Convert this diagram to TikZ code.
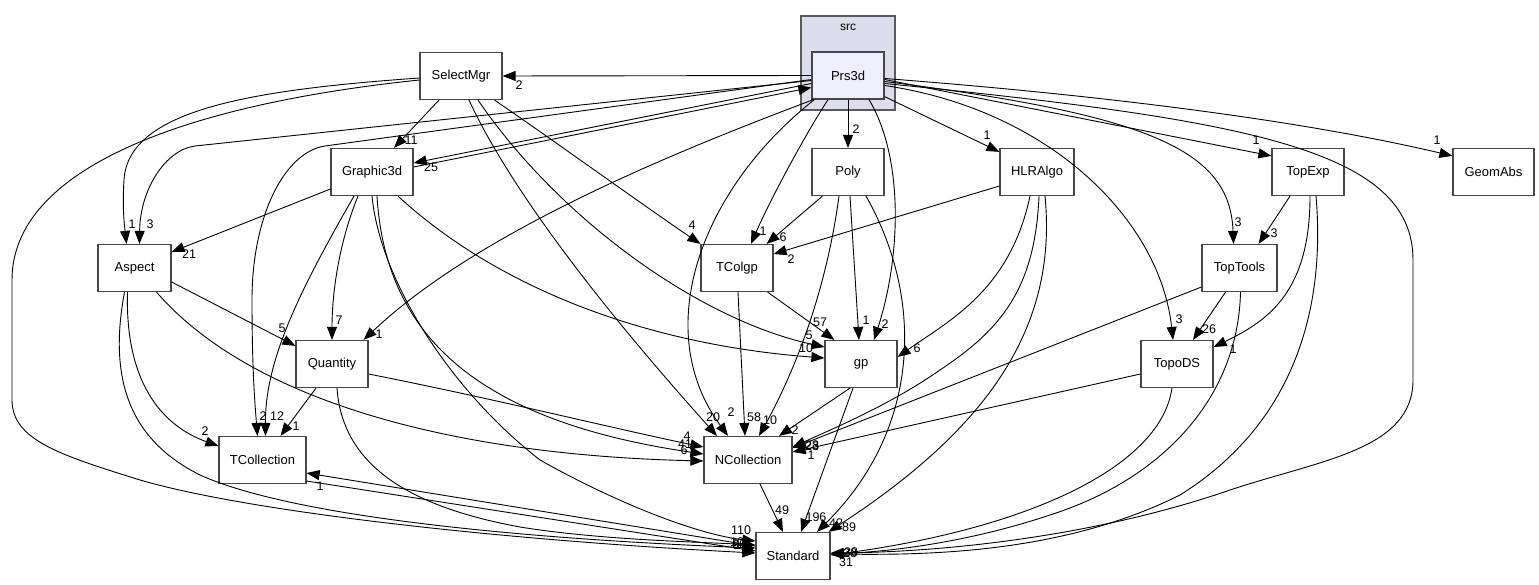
\documentclass[tikz,border=0pt]{standalone}
\usepackage{fontspec}
\setmainfont{Liberation Sans}
\usetikzlibrary{arrows.meta}
\definecolor{clfill}{HTML}{DDDDEE}
\definecolor{prsfill}{HTML}{EEEEFF}
\newcommand\nfont{\fontsize{13}{15}\selectfont}
\newcommand\lfont{\fontsize{12.5}{14}\selectfont}
\tikzset{
  box/.style={draw=black!72, line width=1.2pt, fill=white, minimum height=47pt, inner sep=0pt, font=\nfont},
  cl/.style={draw=black!65, line width=1.2pt, fill=clfill, inner sep=0pt},
  e/.style={draw=black, line width=0.9pt, -{Triangle[length=13pt,width=10pt]}},
  lbl/.style={inner sep=0pt, font=\lfont}
}
\begin{document}
\begin{tikzpicture}[x=1pt,y=-1pt]
\fill[white] (0,0) rectangle (1539,585);
\useasboundingbox (0,0) rectangle (1539,585);
% cluster
\node[cl, minimum width=94pt, minimum height=94pt] (srcbox) at (848,63) {};
\node[lbl, font=\fontsize{12}{14}\selectfont] (srclbl) at (848,27) {src};
% nodes
\node[box, fill=prsfill, minimum width=72pt] (prs) at (848,75.5) {Prs3d};
\node[box, minimum width=82pt] (sel) at (461,76) {SelectMgr};
\node[box, minimum width=82pt] (g3d) at (372,172) {Graphic3d};
\node[box, minimum width=72pt] (poly) at (848,172) {Poly};
\node[box, minimum width=74pt] (hlr) at (1037,172) {HLRAlgo};
\node[box, minimum width=72pt] (topexp) at (1308,172) {TopExp};
\node[box, minimum width=81pt] (geom) at (1493.5,172) {GeomAbs};
\node[box, minimum width=73pt] (aspect) at (134.5,268) {Aspect};
\node[box, minimum width=72pt] (tcolgp) at (737,268) {TColgp};
\node[box, minimum width=75pt] (toptools) at (1239.5,268) {TopTools};
\node[box, minimum width=72pt] (quantity) at (332,364) {Quantity};
\node[box, minimum width=72pt] (gp) at (861,364) {gp};
\node[box, minimum width=72pt] (topods) at (1177,364) {TopoDS};
\node[box, minimum width=87pt] (tcoll) at (262.5,460) {TCollection};
\node[box, minimum width=88pt] (ncoll) at (748,460) {NCollection};
\node[box, minimum width=74pt] (std) at (793,556) {Standard};
% edges from Prs3d
\draw[e] (prs.west) -- (sel.east);
\draw[e] ([shift={(0,8)}]prs.west) -- ([shift={(0,-9)}]g3d.east);
\draw[e] ([shift={(0,-5)}]g3d.east) -- ([shift={(0,12)}]prs.west);
\draw[e] ([shift={(0,5)}]prs.west) -- (195,146) .. controls (165,150) and (140,190) .. ([shift={(5,0)}]aspect.north);
\draw[e] ([shift={(0,4)}]prs.west) -- (325,146) .. controls (285,152) and (252,215) .. (252,300) .. controls (252,370) and (255,405) .. ([shift={(-5,0)}]tcoll.north);
\draw[e] ([shift={(2,0)}]prs.south west) .. controls (680,150) and (480,230) .. ([shift={(-5,0)}]quantity.north east);
\draw[e] (prs.south) -- (poly.north);
\draw[e] ([shift={(0,-3)}]prs.south east) -- ([shift={(0,4)}]hlr.north west);
\draw[e] ([shift={(0,4)}]prs.east) -- ([shift={(0,8)}]topexp.north west);
\draw[e] ([shift={(0,3)}]prs.east) .. controls (1100,95) and (1300,120) .. ([shift={(0,8)}]geom.north west);
\draw[e] ([shift={(0,6)}]prs.east) .. controls (1150,115) and (1230,150) .. ([shift={(-6,0)}]toptools.north);
\draw[e] ([shift={(0,10)}]prs.east) .. controls (1050,110) and (1160,220) .. ([shift={(-4,0)}]topods.north);
\draw[e] ([shift={(0,8)}]prs.east) .. controls (1250,120) and (1413,150) .. (1413,260) -- (1413,380) .. controls (1413,450) and (1320,460) .. (1230,490) .. controls (1100,535) and (950,552) .. ([shift={(0,-3)}]std.east);
\draw[e] ([shift={(-20,0)}]prs.south) .. controls (805,135) and (770,200) .. ([shift={(14,0)}]tcolgp.north);
\draw[e] ([shift={(21,0)}]prs.south) .. controls (905,160) and (900,260) .. ([shift={(13,0)}]gp.north);
\draw[e] ([shift={(3,0)}]prs.south west) .. controls (700,190) and (650,330) .. ([shift={(-20,0)}]ncoll.north);
% SelectMgr
\draw[e] ([shift={(8,0)}]sel.south) .. controls (520,210) and (640,350) .. ([shift={(-31,0)}]ncoll.north);
\draw[e] ([shift={(17,0)}]sel.south) .. controls (560,220) and (700,320) .. ([shift={(0,-17)}]gp.west);
\draw[e] ([shift={(-8,0)}]sel.south east) .. controls (560,145) and (650,210) .. (tcolgp.north west);
\draw[e] ([shift={(-22,0)}]sel.south) -- ([shift={(22,0)}]g3d.north);
\draw[e] ([shift={(0,2)}]sel.west) .. controls (250,90) and (128,110) .. (124,180) .. controls (122,210) and (125,230) .. ([shift={(-8,0)}]aspect.north);
\draw[e] ([shift={(0,4)}]sel.west) .. controls (180,105) and (12,170) .. (12,280) -- (12,400) .. controls (12,440) and (60,455) .. (140,480) .. controls (250,512) and (500,540) .. ([shift={(0,-3)}]std.west);
% Graphic3d
\draw[e] ([shift={(0,17)}]g3d.west) -- ([shift={(0,-16)}]aspect.east);
\draw[e] ([shift={(-14,0)}]g3d.south) .. controls (340,240) and (332,290) .. (quantity.north);
\draw[e] ([shift={(-18,0)}]g3d.south) .. controls (300,290) and (265,360) .. ([shift={(3,0)}]tcoll.north);
\draw[e] ([shift={(26,0)}]g3d.south) .. controls (500,290) and (650,345) .. ([shift={(0,-6)}]gp.west);
\draw[e] ([shift={(5,0)}]g3d.south) .. controls (385,330) and (470,420) .. ([shift={(0,-6)}]ncoll.west);
\draw[e] (g3d.south) .. controls (380,280) and (450,390) .. (540,460) .. controls (620,505) and (700,535) .. ([shift={(0,-15)}]std.west);
% Aspect
\draw[e] ([shift={(0,14)}]aspect.east) -- ([shift={(0,6)}]quantity.north west);
\draw[e] ([shift={(-7,0)}]aspect.south) .. controls (125,380) and (160,425) .. ([shift={(0,-14)}]tcoll.west);
\draw[e] ([shift={(-10,0)}]aspect.south) .. controls (108,380) and (130,440) .. (200,475) .. controls (300,520) and (550,540) .. ([shift={(0,-8)}]std.west);
\draw[e] ([shift={(22,0)}]aspect.south) .. controls (250,400) and (450,455) .. ([shift={(0,1)}]ncoll.west);
% Quantity
\draw[e] ([shift={(-16,0)}]quantity.south) -- ([shift={(18,0)}]tcoll.north);
\draw[e] ([shift={(0,10)}]quantity.east) .. controls (500,400) and (620,430) .. ([shift={(0,-13)}]ncoll.west);
\draw[e] ([shift={(5,0)}]quantity.south) .. controls (342,460) and (400,505) .. (520,527) .. controls (600,540) and (700,542) .. ([shift={(0,-11)}]std.west);
% TCollection / Standard
\draw[e] ([shift={(0,21)}]tcoll.east) -- ([shift={(0,-5)}]std.west);
\draw[e] ([shift={(0,-10)}]std.west) -- ([shift={(0,13)}]tcoll.east);
% TColgp
\draw[e] ([shift={(-6,0)}]tcolgp.south east) -- ([shift={(10,0)}]gp.north west);
\draw[e] ([shift={(1,0)}]tcolgp.south) -- ([shift={(-3,0)}]ncoll.north);
% Poly
\draw[e] ([shift={(11,0)}]poly.south west) -- ([shift={(-7,0)}]tcolgp.north east);
\draw[e] ([shift={(2,0)}]poly.south) -- ([shift={(-2,0)}]gp.north);
\draw[e] ([shift={(-9,0)}]poly.south) .. controls (825,300) and (790,380) .. ([shift={(11,0)}]ncoll.north);
\draw[e] ([shift={(18,0)}]poly.south) .. controls (925,300) and (920,430) .. ([shift={(24,0)}]std.north);
% HLRAlgo
\draw[e] ([shift={(0,14)}]hlr.west) -- ([shift={(0,-14)}]tcolgp.east);
\draw[e] ([shift={(-7,0)}]hlr.south) .. controls (1010,290) and (950,320) .. ([shift={(0,-7)}]gp.east);
\draw[e] ([shift={(2,0)}]hlr.south) .. controls (1035,290) and (1000,330) .. (940,370) .. controls (890,405) and (830,430) .. ([shift={(0,-13)}]ncoll.east);
\draw[e] ([shift={(8,0)}]hlr.south) .. controls (1058,330) and (985,430) .. ([shift={(-2,0)}]std.north east);
% TopExp
\draw[e] ([shift={(-18,0)}]topexp.south) -- ([shift={(-19,0)}]toptools.north east);
\draw[e] ([shift={(2,0)}]topexp.south) .. controls (1310,290) and (1270,320) .. ([shift={(0,-17)}]topods.east);
\draw[e] ([shift={(8,0)}]topexp.south) .. controls (1325,300) and (1300,420) .. (1180,495) .. controls (1060,555) and (920,555) .. ([shift={(0,-2)}]std.east);
% TopTools
\draw[e] ([shift={(-14,0)}]toptools.south) -- ([shift={(16,0)}]topods.north);
\draw[e] ([shift={(0,19)}]toptools.west) -- ([shift={(0,-12)}]ncoll.east);
\draw[e] ([shift={(1,0)}]toptools.south) .. controls (1238,400) and (1160,480) .. (1050,515) .. controls (960,545) and (880,552) .. ([shift={(0,-2)}]std.east);
% TopoDS
\draw[e] ([shift={(0,10)}]topods.west) -- ([shift={(0,-8)}]ncoll.east);
\draw[e] ([shift={(-5,0)}]topods.south) .. controls (1160,470) and (1020,530) .. ([shift={(0,-1)}]std.east);
% gp / NCollection
\draw[e] ([shift={(-11,0)}]gp.south) -- ([shift={(31,0)}]ncoll.north);
\draw[e] ([shift={(-8,0)}]gp.south) -- ([shift={(8,0)}]std.north);
\draw[e] ([shift={(12,0)}]ncoll.south) -- ([shift={(-10,0)}]std.north);
% labels
\node[lbl] (la1) at (519,85) {2};
\node[lbl] (la2) at (431,167) {25};
\node[lbl] (la3) at (150,224) {3};
\node[lbl] (la4) at (263,416) {2};
\node[lbl] (la5) at (379,334) {1};
\node[lbl] (la6) at (856,129) {2};
\node[lbl] (la7) at (987,135) {1};
\node[lbl] (la8) at (1256,140) {1};
\node[lbl] (la9) at (1437,140) {1};
\node[lbl] (la10) at (1238,222) {3};
\node[lbl] (la11) at (1179,319) {3};
\node[lbl] (la12) at (763,231) {1};
\node[lbl] (la13) at (885,324) {2};
\node[lbl] (la14) at (731,412) {2};
\node[lbl] (la15) at (713,417) {20};
\node[lbl] (la16) at (809,335) {5};
\node[lbl] (la17) at (692,225) {4};
\node[lbl] (la18) at (411,140) {11};
\node[lbl] (la19) at (132,224) {1};
\node[lbl] (la20) at (189,254) {21};
\node[lbl] (la21) at (339,320) {7};
\node[lbl] (la22) at (277,416) {12};
\node[lbl] (la23) at (806,348) {10};
\node[lbl] (la24) at (282,328) {5};
\node[lbl] (la25) at (205,431) {2};
\node[lbl] (la26) at (296,426) {1};
\node[lbl] (la27) at (687,436) {4};
\node[lbl] (la28) at (685,444) {41};
\node[lbl] (la29) at (684,450) {6};
\node[lbl] (la30) at (320,486) {1};
\node[lbl] (la31) at (820,322) {57};
\node[lbl] (la32) at (754,417) {58};
\node[lbl] (la33) at (783,237) {6};
\node[lbl] (la34) at (866,320) {1};
\node[lbl] (la35) at (770,420) {10};
\node[lbl] (la36) at (836,523) {42};
\node[lbl] (la37) at (791,259) {2};
\node[lbl] (la38) at (917,348) {6};
\node[lbl] (la39) at (849,527) {89};
\node[lbl] (la40) at (1274,233) {3};
\node[lbl] (la41) at (1233,349) {1};
\node[lbl] (la42) at (1209,329) {26};
\node[lbl] (la43) at (795,430) {2};
\node[lbl] (la44) at (816,517) {196};
\node[lbl] (la45) at (782,510) {49};
\node[lbl] (la46) at (741,530) {110};
\node[lbl] (la47) at (737,542) {10};
\node[lbl] (la48) at (739,544) {66};
\node[lbl] (la49) at (736,545) {8};
\node[lbl] (la50) at (851,552) {38};
\node[lbl] (la51) at (850,553) {28};
\node[lbl] (la52) at (846,562) {31};
\node[lbl] (la53) at (812,445) {28};
\node[lbl] (la54) at (812,446) {23};
\node[lbl] (la55) at (811,455) {1};
\end{tikzpicture}
\end{document}
